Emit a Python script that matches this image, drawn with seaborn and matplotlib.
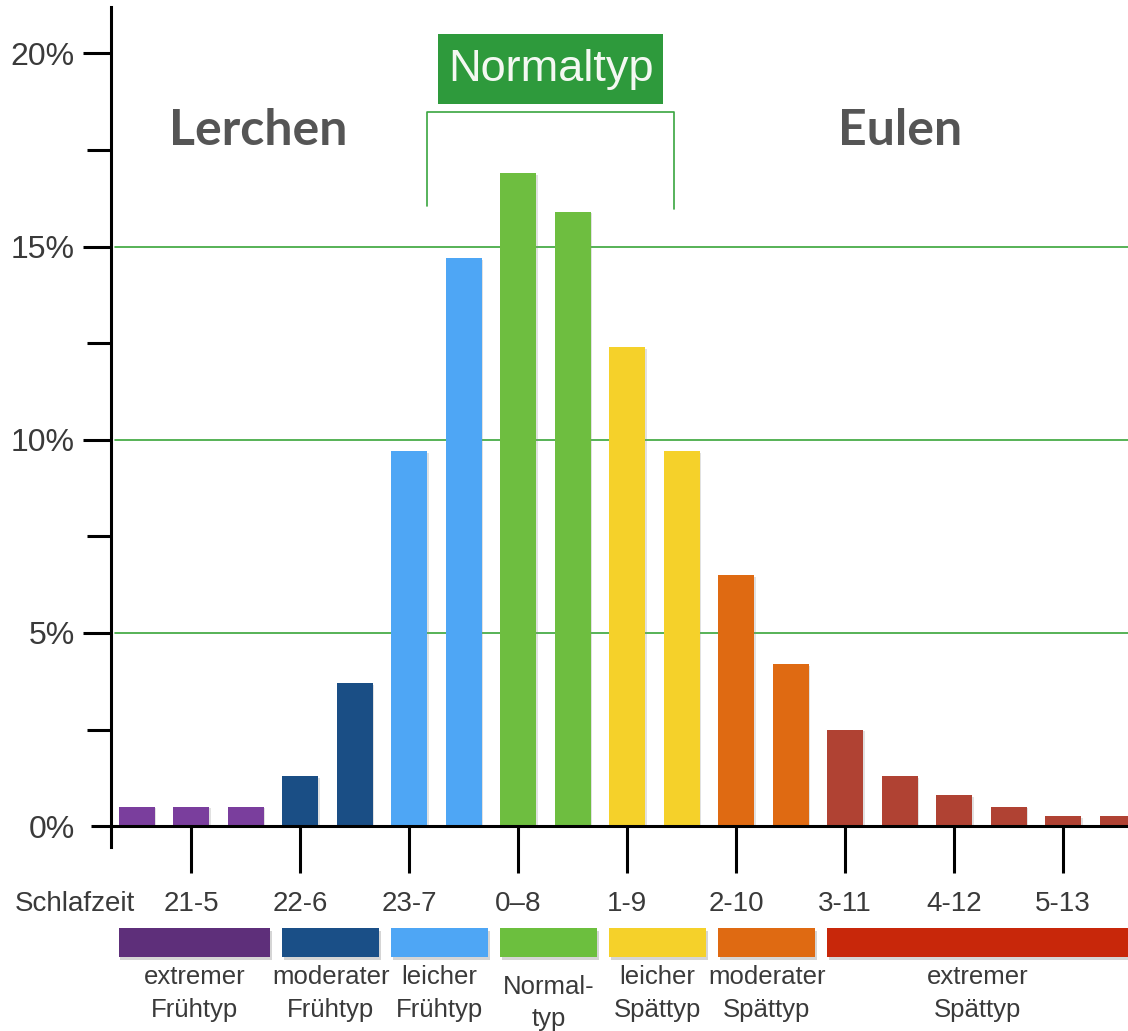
import matplotlib
matplotlib.use("Agg")
import matplotlib.pyplot as plt
import matplotlib.patheffects as pe
from matplotlib.patches import Rectangle
from matplotlib.transforms import offset_copy, blended_transform_factory
import seaborn as sns
import pandas as pd

# Share of people per mid-sleep bin (percent)
shares = [0.5, 0.5, 0.5, 1.3, 3.7, 9.7, 14.7, 16.9, 15.9, 12.4,
          9.7, 6.5, 4.2, 2.5, 1.3, 0.8, 0.5, 0.25, 0.25]

# Chronotype of each bin
chronotype = (["extremer Frühtyp"] * 3 + ["moderater Frühtyp"] * 2 +
              ["leicher Frühtyp"] * 2 + ["Normaltyp"] * 2 +
              ["leicher Spättyp"] * 2 + ["moderater Spättyp"] * 2 +
              ["extremer Spättyp"] * 6)

types = ["extremer Frühtyp", "moderater Frühtyp", "leicher Frühtyp", "Normaltyp",
         "leicher Spättyp", "moderater Spättyp", "extremer Spättyp"]
type_labels = ["extremer\nFrühtyp", "moderater\nFrühtyp", "leicher\nFrühtyp",
               "Normal-\ntyp", "leicher\nSpättyp", "moderater\nSpättyp",
               "extremer\nSpättyp"]
bar_colors = ["#7a3e9d", "#1a4e85", "#4ea6f5", "#6ebe40",
              "#f5d12a", "#df6a12", "#b04233"]
band_colors = ["#5e2f7a", "#1a4f87", "#4ea6f5", "#6cbf3e",
               "#f5d12a", "#df6a12", "#c8270a"]

sleep_labels = ["21-5", "22-6", "23-7", "0–8", "1-9", "2-10", "3-11", "4-12", "5-13"]
sleep_positions = [1, 3, 5, 7, 9, 11, 13, 15, 17]

y_ticks = [0, 5, 10, 15, 20]
y_tick_labels = ["0%", "5%", "10%", "15%", "20%"]

df = pd.DataFrame({"bin": [str(i) for i in range(len(shares))],
                   "share": shares, "type": chronotype})

sns.set_theme(style="white")
plt.rcParams["font.family"] = ["Liberation Sans", "DejaVu Sans"]

W, H = 1128, 1031
fig = plt.figure(figsize=(W / 100, H / 100), dpi=100)
ax = fig.add_axes([111 / W, (H - 847) / H, 1 - 111 / W, 840 / H])

sns.barplot(data=df, x="bin", y="share", hue="type", hue_order=types,
            palette=dict(zip(types, bar_colors)), dodge=False, width=0.66,
            saturation=1, legend=False, linewidth=0, ax=ax, zorder=3)
shadow = [pe.SimplePatchShadow(offset=(1.2, -1.2), shadow_rgbFace="#888888", alpha=0.25),
          pe.Normal()]
for p in ax.patches:
    p.set_edgecolor("none")
    p.set_path_effects(shadow)

ax.set_xlim(-0.47, 18.19)
ax.set_ylim(-0.54, 21.2)
ax.set_xlabel("")
ax.set_ylabel("")

# green reference lines
for yv in [5, 10, 15]:
    ax.axhline(yv, xmin=0.004, color="#3aa53a", lw=1.2, zorder=1)

# axes spines
for s in ["top", "right"]:
    ax.spines[s].set_visible(False)
ax.spines["left"].set_linewidth(2.2)
ax.spines["left"].set_color("black")
ax.spines["bottom"].set_position(("data", 0))
ax.spines["bottom"].set_linewidth(2.2)
ax.spines["bottom"].set_color("black")
ax.spines["bottom"].set_zorder(4)
blend = blended_transform_factory(ax.transAxes, ax.transData)
ax.plot([-20 / 1017, 0], [0, 0], color="black", lw=2.2, transform=blend,
        clip_on=False, solid_capstyle="butt")

# y ticks
ax.set_yticks(y_ticks)
ax.set_yticklabels(y_tick_labels)
ax.set_yticks([2.5, 7.5, 12.5, 17.5], minor=True)
ax.tick_params(axis="y", which="major", length=20, width=2.2, color="black",
               labelsize=23, labelcolor="#3a3a3a", pad=6, left=True)
ax.tick_params(axis="y", which="minor", length=17, width=2.2, color="black", left=True)
ax.yaxis.get_major_ticks()[0].tick1line.set_visible(False)

# x ticks (sleep window)
tick_len, tick_pad = 34, 13
ax.set_xticks(sleep_positions)
ax.set_xticklabels(sleep_labels)
ax.tick_params(axis="x", which="major", length=tick_len, width=2.2, color="black",
               labelsize=20, labelcolor="#3a3a3a", pad=tick_pad, bottom=True,
               direction="out")
label_tr = offset_copy(ax.transData, fig=fig, y=-(tick_len + tick_pad), units="points")
ax.text(-1.13, 0, "Schlafzeit", transform=label_tr, ha="center", va="top",
        fontsize=20, color="#3a3a3a", clip_on=False)

# chronotype bands below the axis
band_shadow = [pe.SimplePatchShadow(offset=(1, -2), shadow_rgbFace="#777777", alpha=0.3),
               pe.Normal()]
for t, lab, col in zip(types, type_labels, band_colors):
    idx = [i for i, c in enumerate(chronotype) if c == t]
    x0 = idx[0] - 0.33
    x1 = min(idx[-1] + 0.45, 18.19)
    r = Rectangle((x0, -3.39), x1 - x0, 0.75, facecolor=col, edgecolor="none",
                  clip_on=False, zorder=3)
    r.set_path_effects(band_shadow)
    ax.add_patch(r)
    ty = -3.84 if t == "Normaltyp" else -3.6
    ax.text((x0 + x1) / 2, ty, lab, ha="center", va="top", fontsize=18.5,
            color="#3a3a3a", linespacing=1.45, clip_on=False)

# group headings
ax.text(2.23, 17.64, "Lerchen", ha="center", va="baseline", fontsize=36,
        fontweight="bold", color="#555555", family=["Lato", "DejaVu Sans"])
ax.text(14.0, 17.64, "Eulen", ha="center", va="baseline", fontsize=36,
        fontweight="bold", color="#555555", family=["Lato", "DejaVu Sans"])

# Normaltyp box and bracket
ax.add_patch(Rectangle((5.53, 18.70), 9.66 - 5.53, 20.49 - 18.70,
                       facecolor="#2e9a3c", edgecolor="none", zorder=3))
ax.text(7.595, 19.58, "Normaltyp", ha="center", va="center", fontsize=32.5,
        color="#f4f8f2", zorder=4)
ax.plot([5.33, 5.33, 9.86, 9.86], [16.04, 18.47, 18.47, 15.97],
        color="#3aa540", lw=1.2, zorder=3)

fig.savefig("out.png", dpi=100)
